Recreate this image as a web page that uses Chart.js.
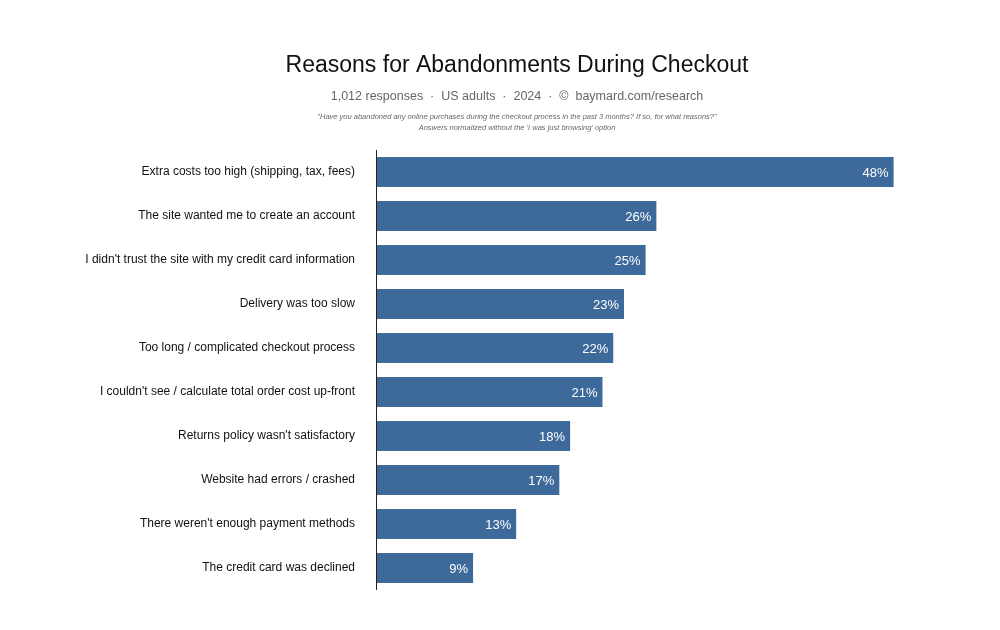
<!DOCTYPE html>
<html><head><meta charset="utf-8">
<script src="https://cdn.jsdelivr.net/npm/chart.js@4/dist/chart.umd.min.js"></script>
<style>html,body{margin:0;background:#fff}#w{position:relative;width:1000px;height:630px}</style>
</head><body><div id="w"><canvas id="c" width="1000" height="630"></canvas></div>
<script>
const categories=["Extra costs too high (shipping, tax, fees)","The site wanted me to create an account","I didn't trust the site with my credit card information","Delivery was too slow","Too long / complicated checkout process","I couldn't see / calculate total order cost up-front","Returns policy wasn't satisfactory","Website had errors / crashed","There weren't enough payment methods","The credit card was declined"];
const values=[48,26,25,23,22,21,18,17,13,9];
const titleText="Reasons for Abandonments During Checkout";
const subtitleText="1,012 responses  ·  US adults  ·  2024  ·  ©  baymard.com/research";
const noteLines=["\"Have you abandoned any online purchases during the checkout process in the past 3 months? If so, for what reasons?\"","Answers normalized without the 'I was just browsing' option"];
const F="'Helvetica Neue', Arial, 'Liberation Sans', sans-serif";
const header={id:'header',afterDraw(ch){const x=ch.ctx;x.save();x.textAlign='center';x.textBaseline='middle';
x.fillStyle='#111';x.font='23px '+F;x.fillText(titleText,517,66);
x.fillStyle='#666';x.font='12.5px '+F;x.fillText(subtitleText,517,97);
x.font='italic 7.5px '+F;x.fillText(noteLines[0],517,117);x.fillText(noteLines[1],517,128);
const m=ch.getDatasetMeta(0);x.fillStyle='#fff';x.font='13px '+F;x.textAlign='right';
m.data.forEach((b,i)=>x.fillText(values[i]+'%',b.x-5,b.y+1));
x.strokeStyle='#222';x.lineWidth=1;x.beginPath();x.moveTo(376.5,150);x.lineTo(376.5,590);x.stroke();x.restore();}};
new Chart(document.getElementById('c'),{type:'bar',data:{labels:categories,datasets:[{data:values,backgroundColor:'#3d6a9a',barPercentage:0.68,categoryPercentage:1}]},
options:{indexAxis:'y',responsive:false,animation:false,layout:{padding:{top:150,bottom:40,right:101,left:0}},
plugins:{legend:{display:false},tooltip:{enabled:false}},
scales:{x:{min:0,max:48.5,display:false},y:{grid:{display:false},border:{display:false},ticks:{color:'#111',font:{size:12,family:F},padding:13},afterFit(s){s.width=376;}}}},
plugins:[header]});
</script></body></html>
